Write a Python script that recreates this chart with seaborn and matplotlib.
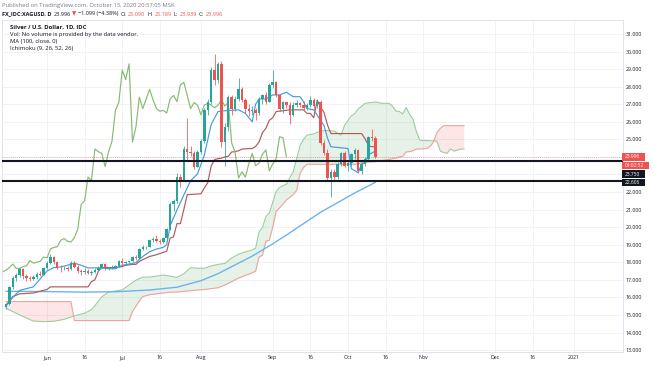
import numpy as np
import pandas as pd
import matplotlib
matplotlib.use("Agg")
import matplotlib.pyplot as plt
from matplotlib.patches import Rectangle
import seaborn as sns

# ---------------- data ----------------
first_session = "2020-05-14"
anchor_session = "2020-06-01"   # indicator knots below count sessions from this day

opens = [15.45, 15.60, 16.60, 17.10, 17.25, 17.60, 17.20, 17.10, 17.05, 17.15, 17.35, 17.30,
         17.65, 17.95, 18.30, 18.00, 17.70, 17.65, 17.70, 17.60, 17.95, 17.75,
         17.50, 17.45, 17.50, 17.40, 17.45, 17.55, 17.70, 17.90, 17.65, 17.65,
         17.75, 17.80, 18.10, 17.95, 18.00, 18.05, 18.30, 18.25, 18.75, 18.85,
         18.88, 19.25, 19.35, 19.20, 19.15, 19.40, 19.90, 21.30, 21.50, 22.85,
         22.65, 24.45, 24.30, 24.20, 23.45, 24.30, 24.90, 26.65, 27.10, 28.95,
         28.40, 29.30, 24.85, 25.70, 27.40, 26.75, 27.30, 27.85, 27.25, 26.75,
         26.60, 26.65, 26.50, 27.30, 27.50, 27.15, 28.10, 28.25, 27.50, 26.75,
         27.10, 26.95, 26.40, 26.95, 27.05, 26.95, 26.80, 26.95, 27.25, 26.90,
         27.10, 24.80, 24.25, 22.80, 23.15, 22.85, 23.60, 24.20, 23.50, 23.65,
         24.15, 24.40, 23.20, 23.60, 23.90, 25.15, 25.090]
highs = [15.70, 16.65, 17.20, 17.40, 17.70, 17.65, 17.35, 17.20, 17.30, 17.45, 17.50, 17.75,
         18.05, 18.45, 18.35, 18.05, 17.85, 17.80, 17.80, 18.05, 18.05, 17.85,
         17.60, 17.65, 17.60, 17.55, 17.65, 17.80, 17.95, 17.95, 17.75, 17.85,
         17.85, 18.15, 18.25, 18.10, 18.10, 18.35, 18.40, 18.80, 19.00, 18.95,
         19.35, 19.45, 19.55, 19.35, 19.45, 19.95, 21.45, 21.60, 23.10, 23.00,
         24.60, 26.20, 24.60, 24.35, 24.40, 25.00, 26.80, 27.30, 29.10, 29.85,
         29.40, 29.45, 25.95, 27.55, 27.55, 27.45, 28.50, 28.00, 27.35, 27.00,
         26.90, 26.80, 27.40, 27.60, 27.70, 28.20, 28.95, 28.35, 27.60, 27.20,
         27.15, 27.10, 27.10, 27.25, 27.15, 27.20, 27.05, 27.45, 27.35, 27.30,
         27.25, 24.95, 24.45, 23.30, 23.30, 23.70, 24.30, 24.35, 23.75, 24.25,
         24.50, 24.45, 23.70, 24.00, 25.20, 25.60, 25.189]
lows = [15.35, 15.55, 16.50, 16.95, 17.15, 17.05, 16.95, 16.95, 17.00, 17.05, 17.20, 17.25,
        17.60, 17.90, 17.90, 17.60, 17.45, 17.55, 17.50, 17.55, 17.65, 17.40,
        17.30, 17.35, 17.35, 17.30, 17.40, 17.50, 17.65, 17.55, 17.55, 17.60,
        17.65, 17.75, 17.85, 17.85, 17.95, 18.00, 18.15, 18.20, 18.70, 18.75,
        18.85, 19.15, 19.15, 19.05, 19.10, 19.35, 19.85, 20.90, 21.40, 22.30,
        22.60, 23.80, 24.05, 23.30, 23.40, 24.15, 24.80, 26.40, 27.00, 28.10,
        28.20, 24.55, 23.50, 25.50, 26.40, 26.60, 27.20, 27.10, 26.50, 26.35,
        26.40, 26.10, 26.40, 27.00, 27.00, 27.10, 27.95, 27.40, 26.60, 26.50,
        26.80, 25.90, 26.35, 26.85, 26.85, 26.70, 26.70, 26.85, 26.75, 26.80,
        24.70, 24.10, 22.70, 21.70, 22.70, 22.75, 23.50, 23.40, 23.20, 23.50,
        23.90, 23.10, 23.05, 23.50, 23.80, 24.90, 23.939]
closes = [15.60, 16.60, 17.10, 17.25, 17.60, 17.20, 17.10, 17.05, 17.15, 17.35, 17.30, 17.65,
          17.95, 18.30, 18.00, 17.70, 17.65, 17.70, 17.60, 17.95, 17.75, 17.50,
          17.45, 17.50, 17.40, 17.45, 17.55, 17.70, 17.90, 17.65, 17.65, 17.75,
          17.80, 18.10, 17.95, 18.00, 18.05, 18.30, 18.25, 18.75, 18.85, 18.88,
          19.25, 19.35, 19.20, 19.15, 19.40, 19.90, 21.30, 21.50, 22.85, 22.65,
          24.45, 24.30, 24.20, 23.45, 24.30, 24.90, 26.65, 27.10, 28.95, 28.40,
          29.30, 24.85, 25.70, 27.40, 26.75, 27.30, 27.85, 27.25, 26.75, 26.60,
          26.65, 26.50, 27.30, 27.50, 27.15, 28.10, 28.25, 27.50, 26.75, 27.10,
          26.95, 26.40, 26.95, 27.05, 26.95, 26.80, 26.95, 27.25, 26.90, 27.10,
          24.80, 24.25, 22.80, 23.15, 22.85, 23.60, 24.20, 23.50, 23.65, 24.15,
          24.40, 23.20, 23.60, 23.90, 25.15, 25.095, 23.996]

ma_i = [-12, 0, 10, 20, 30, 38, 45, 50, 55, 60, 66, 70, 75, 80, 85, 90, 96]
ma_v = [16.35, 16.33, 16.30, 16.32, 16.42, 16.58, 16.95, 17.35, 17.85, 18.35, 19.05,
        19.55, 20.2, 20.85, 21.4, 21.95, 22.55]

tenkan_i = [-12, -10, -8, -6, -4, -2, 0, 2, 4, 6, 8, 10, 12, 16, 18, 20, 22, 24, 26, 28,
            30, 32, 34, 35, 36, 38, 40, 42, 44, 46, 48, 50, 52, 56, 58, 60, 61, 62, 64, 66,
            68, 70, 72, 74, 75, 76, 78, 80, 81, 82, 83, 88, 89, 91, 92, 93, 94, 96]
tenkan_v = [15.5, 16.0, 16.4, 16.5, 16.6, 17.05, 17.5, 17.7, 17.73, 17.83, 17.95, 17.83,
            17.68, 17.68, 17.63, 17.63, 17.83, 17.9, 17.98, 18.33, 18.6, 18.75, 18.85, 19.0,
            20.08, 20.98, 21.83, 22.65, 23.03, 24.1, 25.85, 26.58, 26.63, 26.68, 26.48, 26.0,
            27.0, 27.3, 27.3, 27.53, 27.53, 27.68, 27.43, 27.43, 27.13, 26.75, 26.68, 26.08,
            25.78, 25.08, 24.58, 24.48, 23.33, 23.1, 23.6, 23.63, 24.13, 24.33]

kijun_i = [-12, -11, -10, -8, -4, 0, 1, 12, 13, 14, 15, 16, 20, 21, 22, 23, 24, 25, 26, 27,
           28, 30, 31, 32, 35, 36, 37, 38, 39, 40, 41, 45, 46, 47, 48, 49, 50, 51, 52, 53,
           54, 55, 56, 57, 60, 61, 62, 63, 64, 65, 66, 67, 71, 75, 76, 77, 78, 79, 80, 81,
           82, 83, 92, 93, 94, 95, 96]
kijun_v = [15.55, 15.8, 16.05, 16.2, 16.25, 16.45, 16.6, 16.6, 16.9, 17.0, 17.48, 17.7,
           17.7, 17.73, 17.75, 17.83, 17.85, 17.88, 17.88, 18.05, 18.15, 18.33, 18.38, 18.43,
           18.63, 19.38, 19.45, 20.2, 20.2, 21.0, 21.85, 21.9, 22.23, 22.53, 23.48, 23.85,
           23.9, 23.93, 24.0, 24.03, 24.28, 24.3, 24.35, 24.45, 24.48, 24.6, 24.85, 25.38,
           25.63, 26.08, 26.23, 26.58, 26.68, 26.68, 26.48, 26.48, 26.23, 27.23, 26.83, 26.53,
           25.83, 25.33, 25.33, 25.03, 24.65, 24.58, 24.58]

cloud_i = [-12, -8, -4, -1, 2, 5, 7, 8, 11, 13, 14, 16, 18, 22, 24, 25, 26, 27, 28, 30,
           32, 34, 36, 38, 40, 42, 44, 46, 48, 50, 52, 54, 56, 58, 60, 61, 62, 63, 64, 65,
           66, 67, 68, 70, 72, 73, 74, 75, 76, 78, 80, 82, 84, 86, 87, 88, 89, 90, 91, 92,
           93, 96, 98, 100, 101, 102, 103, 104, 105, 106, 107, 108, 109, 111, 112, 113, 114,
           115, 116, 117, 118, 119, 120, 121, 122]
span_a = [15.38, 15.0, 14.65, 14.62, 14.64, 14.75, 14.88, 14.95, 15.1, 15.3,
          15.53, 16.03, 16.3, 16.43, 16.7, 16.85, 16.98, 17.07, 17.15, 17.16,
          17.21, 17.27, 17.21, 17.14, 17.34, 17.69, 17.66, 17.66, 17.79, 17.88,
          17.93, 18.24, 18.46, 18.59, 18.7, 18.8, 19.73, 19.98, 20.59, 20.8,
          21.41, 22.03, 22.26, 22.45, 23.16, 23.9, 24.66, 25.0, 25.24, 25.31,
          25.48, 25.51, 25.46, 25.24, 25.8, 26.08, 26.34, 26.46, 26.74, 26.88,
          27.05, 27.13, 27.05, 27.05, 26.9, 26.61, 26.59, 26.45, 26.81, 26.45,
          26.15, 25.45, 24.95, 24.93, 24.92, 24.91, 24.9, 24.33, 24.25, 24.21,
          24.46, 24.33, 24.39, 24.45, 24.45]
span_b = [15.76, 15.76, 15.76, 15.76, 15.76, 15.76, 15.76, 14.68, 14.68, 14.68,
          14.68, 14.68, 14.68, 14.68, 14.68, 15.2, 15.5, 15.8, 16.05, 16.15,
          16.2, 16.25, 16.3, 16.3, 16.35, 16.38, 16.42, 16.45, 16.5, 16.55,
          16.7, 16.9, 17.1, 17.25, 17.4, 17.5, 18.3, 18.4, 19.2, 19.25,
          20.0, 20.9, 21.1, 21.55, 21.85, 22.1, 23.05, 23.4, 23.58, 23.58,
          23.58, 23.58, 23.58, 23.58, 23.58, 23.58, 23.58, 23.58, 23.6, 23.68,
          23.7, 23.73, 23.8, 23.85, 23.9, 23.93, 24.0, 24.03, 24.28, 24.3,
          24.35, 24.45, 24.45, 24.48, 24.6, 24.85, 25.38, 25.63, 25.78, 25.78,
          25.78, 25.78, 25.78, 25.78, 25.78]
lag_shift = 26

levels = [23.75, 22.606]
last_price = 23.996
countdown = "04:02:52"

tick_dates = ["2020-06-01", "2020-06-16", "2020-07-01", "2020-07-16", "2020-08-01",
              "2020-09-01", "2020-09-16", "2020-10-01", "2020-10-16", "2020-11-01",
              "2020-12-01", "2020-12-16", "2021-01-01"]
tick_labels = ["Jun", "16", "Jul", "16", "Aug", "Sep", "16", "Oct", "16", "Nov",
               "Dec", "16", "2021"]
price_ticks = list(range(13, 32))
hidden_price_labels = [23, 24]   # covered by the price tags in the reference

# ---------------- style ----------------
W, H = 654, 366
sns.set_theme(style="white")
plt.rcParams["font.family"] = ["Open Sans", "DejaVu Sans"]

GREEN = "#26a69a"
RED = "#ef5350"
DARK = "#131722"
GRID = "#eef0f4"

fig = plt.figure(figsize=(W / 100, H / 100), dpi=100)
fig.patch.set_facecolor("white")
ax = fig.add_axes([2 / W, 1 - 352 / H, 621 / W, 332 / H])
ax.set_facecolor("white")

sessions = pd.bdate_range(first_session, "2021-03-31")
def pos(d):
    return int(sessions.searchsorted(pd.Timestamp(d)))
anchor = pos(anchor_session)

o = np.array(opens); h = np.array(highs); l = np.array(lows); c = np.array(closes)
xc = np.arange(len(c))

# cloud
cx = np.array(cloud_i) + anchor
a = np.array(span_a); b = np.array(span_b)
ax.fill_between(cx, a, b, where=a >= b, interpolate=True, color="#43a047", alpha=0.13, lw=0)
ax.fill_between(cx, a, b, where=a < b, interpolate=True, color="#f44336", alpha=0.13, lw=0)
sns.lineplot(x=cx, y=a, ax=ax, color="#9ccc9c", lw=0.8, sort=False, estimator=None, legend=False)
sns.lineplot(x=cx, y=b, ax=ax, color="#f2a29e", lw=0.8, sort=False, estimator=None, legend=False)

# MA 100
sns.lineplot(x=np.array(ma_i) + anchor, y=ma_v, ax=ax, color="#6db3ef", lw=1.0,
             sort=False, estimator=None, legend=False)
# base / conversion / lagging
sns.lineplot(x=np.array(kijun_i) + anchor, y=kijun_v, ax=ax, color="#b25a5a", lw=0.85,
             sort=False, estimator=None, legend=False)
sns.lineplot(x=np.array(tenkan_i) + anchor, y=tenkan_v, ax=ax, color="#4a98e6", lw=0.85,
             sort=False, estimator=None, legend=False)
sns.lineplot(x=xc - lag_shift, y=c, ax=ax, color="#86bb72", lw=0.85,
             sort=False, estimator=None, legend=False)

# candles
up = c >= o
cols = np.where(up, GREEN, RED)
ax.vlines(xc, l, h, colors=cols, lw=0.55, zorder=4)
body = np.maximum(np.abs(c - o), 0.04)
ax.bar(xc, body, bottom=np.minimum(o, c), width=0.72, color=cols, lw=0, zorder=5)

# horizontal levels and last-price line
for lv in levels:
    ax.axhline(lv, color=DARK, lw=1.5, zorder=6)
ax.axhline(last_price, color=RED, lw=0.6, ls=(0, (1, 1.5)), alpha=0.6, zorder=3)

# axes
ax.set_xlim(anchor - 13.16, anchor + 168.42)
ax.set_ylim(12.89, 31.797)
ax.set_xticks([pos(d) for d in tick_dates])
ax.set_xticklabels(tick_labels)
ax.yaxis.tick_right()
ax.set_yticks(price_ticks)
ax.set_yticklabels(["" if v in hidden_price_labels else f"{v:.3f}" for v in price_ticks])
ax.tick_params(axis="x", length=0, pad=2.2, labelsize=3.8, colors=DARK)
ax.tick_params(axis="y", length=0, pad=2.0, labelsize=3.8, colors=DARK)
ax.grid(True, color=GRID, lw=0.6)
ax.set_axisbelow(True)
for s in ax.spines.values():
    s.set_color("#e0e3eb"); s.set_linewidth(0.7)

# right-hand price labels (boxes drawn in pixel units)
def price_tag(y_px, txt, fc, w_px):
    fig.patches.append(Rectangle((622 / W, 1 - (y_px + 3.6) / H), w_px / W, 7.2 / H,
                                 transform=fig.transFigure, fc=fc, ec="none", zorder=10))
    fig.text(624.5 / W, 1 - y_px / H, txt, color="white", fontsize=3.5, ha="left",
             va="center", zorder=11)
price_tag(157, f"{last_price:.3f}", RED, 23)
price_tag(165.5, countdown, RED, 27)
price_tag(174, f"{levels[0]:.3f}", DARK, 23)
price_tag(182.5, f"{levels[1]:.3f}", DARK, 23)

# header texts
renderer = fig.canvas.get_renderer()
def segments(x_px, y_px, parts, size, gap=1.8):
    x = x_px
    for txt, color, weight in parts:
        t = fig.text(x / W, 1 - y_px / H, txt, fontsize=size, color=color, fontweight=weight,
                     ha="left", va="center")
        x += t.get_window_extent(renderer).width + gap

segments(2, 5, [("Published on TradingView.com, October 13, 2020 20:57:05 MSK", "#787b86", "normal")], 4.2)
segments(2, 14, [("FX_IDC:XAGUSD, D", DARK, "bold"), ("23.996", DARK, "normal"),
                 ("\u25bc", RED, "normal"), ("\u22121.099 (\u22124.38%)", DARK, "normal"),
                 ("O:", DARK, "normal"), ("25.090", RED, "normal"),
                 ("H:", DARK, "normal"), ("25.189", RED, "normal"),
                 ("L:", DARK, "normal"), ("23.939", RED, "normal"),
                 ("C:", DARK, "normal"), ("23.996", RED, "normal")], 4.0)
segments(10, 27, [("Silver / U.S. Dollar, 1D, IDC", DARK, "bold")], 4.2)
segments(10, 34.5, [("Vol: No volume is provided by the data vendor.", DARK, "normal")], 4.2)
segments(10, 41.5, [("MA (100, close, 0)", DARK, "normal")], 4.2)
segments(10, 48.5, [("Ichimoku (9, 26, 52, 26)", DARK, "normal")], 4.2)

fig.savefig("out.png", dpi=100, facecolor="white")
